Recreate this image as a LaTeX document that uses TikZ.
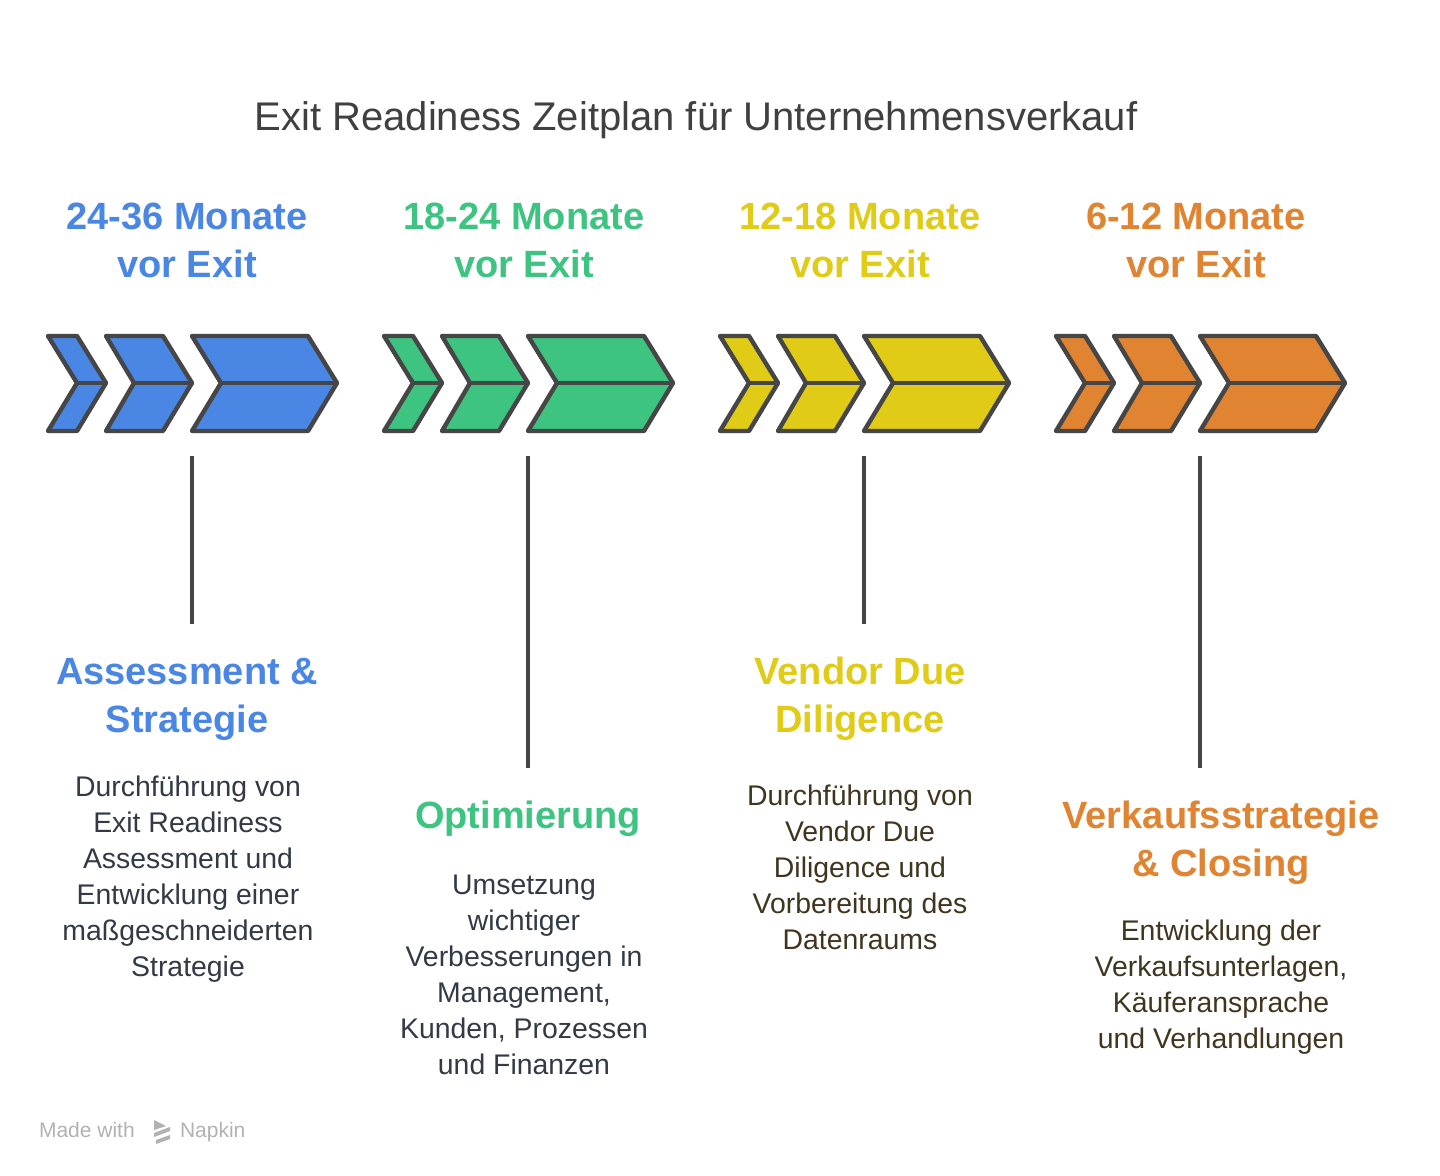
\documentclass[tikz,border=0pt]{standalone}
\usepackage{fontspec}
\setmainfont{Liberation Sans}
\begin{document}
\begin{tikzpicture}[x=0.5pt,y=-0.5pt,
  chev/.style={draw=strokegray,line width=2.2pt,line join=round},
  stem/.style={draw=strokegray,line width=1.6pt},
  head/.style={font=\fontsize{19}{24}\selectfont\bfseries,align=center},
  body/.style={font=\fontsize{14.2}{18}\selectfont,align=center},
  top/.style={font=\fontsize{19}{24}\selectfont\bfseries,align=center}]
\definecolor{strokegray}{HTML}{464646}
\definecolor{cblue}{HTML}{4A86E4}
\definecolor{cgreen}{HTML}{3DC481}
\definecolor{cyellow}{HTML}{E0CC16}
\definecolor{corange}{HTML}{E08431}
\definecolor{tdark}{HTML}{333A45}
\definecolor{tbrown}{HTML}{40351F}
\useasboundingbox (0,0) rectangle (1440,1176);
\fill[white] (0,0) rectangle (1440,1176);
\node[font=\fontsize{20}{24}\selectfont,text=black!75] (title) at (696,120) {Exit Readiness Zeitplan für Unternehmensverkauf};
\foreach \i/\c in {0/cblue,1/cgreen,2/cyellow,3/corange}{
  \begin{scope}[xshift=\i*168pt]
    \filldraw[chev,fill=\c] (48,336)--(77,336)--(106,383)--(77,431)--(48,431)--(77,383)--cycle;
    \draw[chev] (77,383)--(106,383);
    \filldraw[chev,fill=\c] (106,336)--(163,336)--(192,383)--(163,431)--(106,431)--(134,383)--cycle;
    \draw[chev] (134,383)--(192,383);
    \filldraw[chev,fill=\c] (192,336)--(308,336)--(337,383)--(308,431)--(192,431)--(221,383)--cycle;
    \draw[chev] (221,383)--(337,383);
  \end{scope}}
\coordinate (s1a) at (192,456); \coordinate (s1b) at (192,624);
\coordinate (s2a) at (528,456); \coordinate (s2b) at (528,768);
\coordinate (s3a) at (864,456); \coordinate (s3b) at (864,624);
\coordinate (s4a) at (1200,456); \coordinate (s4b) at (1200,768);
\draw[stem] (s1a)--(s1b); \draw[stem] (s2a)--(s2b);
\draw[stem] (s3a)--(s3b); \draw[stem] (s4a)--(s4b);
\node[top,text=cblue] (t1) at (187,240) {24-36 Monate\\vor Exit};
\node[top,text=cgreen] (t2) at (524,240) {18-24 Monate\\vor Exit};
\node[top,text=cyellow] (t3) at (860,240) {12-18 Monate\\vor Exit};
\node[top,text=corange] (t4) at (1196,240) {6-12 Monate\\vor Exit};
\node[head,text=cblue] (h1) at (187,699) {Assessment \&\\Strategie};
\node[body,text=tdark] (d1) at (188,879) {Durchführung von\\Exit Readiness\\Assessment und\\Entwicklung einer\\maßgeschneiderten\\Strategie};
\node[head,text=cgreen] (h2) at (528,819) {Optimierung};
\node[body,text=tdark] (d2) at (524,975) {Umsetzung\\wichtiger\\Verbesserungen in\\Management,\\Kunden, Prozessen\\und Finanzen};
\node[head,text=cyellow] (h3) at (860,699) {Vendor Due\\Diligence};
\node[body,text=tbrown] (d3) at (860,867) {Durchführung von\\Vendor Due\\Diligence und\\Vorbereitung des\\Datenraums};
\node[head,text=corange] (h4) at (1221,843) {Verkaufsstrategie\\\& Closing};
\node[body,text=tbrown] (d4) at (1221,987) {Entwicklung der\\Verkaufsunterlagen,\\Käuferansprache\\und Verhandlungen};
\node[font=\fontsize{10.5}{12}\selectfont,text=black!30,anchor=west] (mw) at (32,1132) {Made with \hspace{1.6em} Napkin};
\begin{scope}[shift={(162,1131)}]
  \fill[black!30] (-8,-11)--(4,-5)--(-8,-1)--cycle;
  \fill[black!30] (-8,2)--(8,-4)--(8,0)--(-8,6)--cycle;
  \fill[black!30] (-6,9)--(8,4)--(8,8)--(-6,13)--cycle;
\end{scope}
\end{tikzpicture}
\end{document}
